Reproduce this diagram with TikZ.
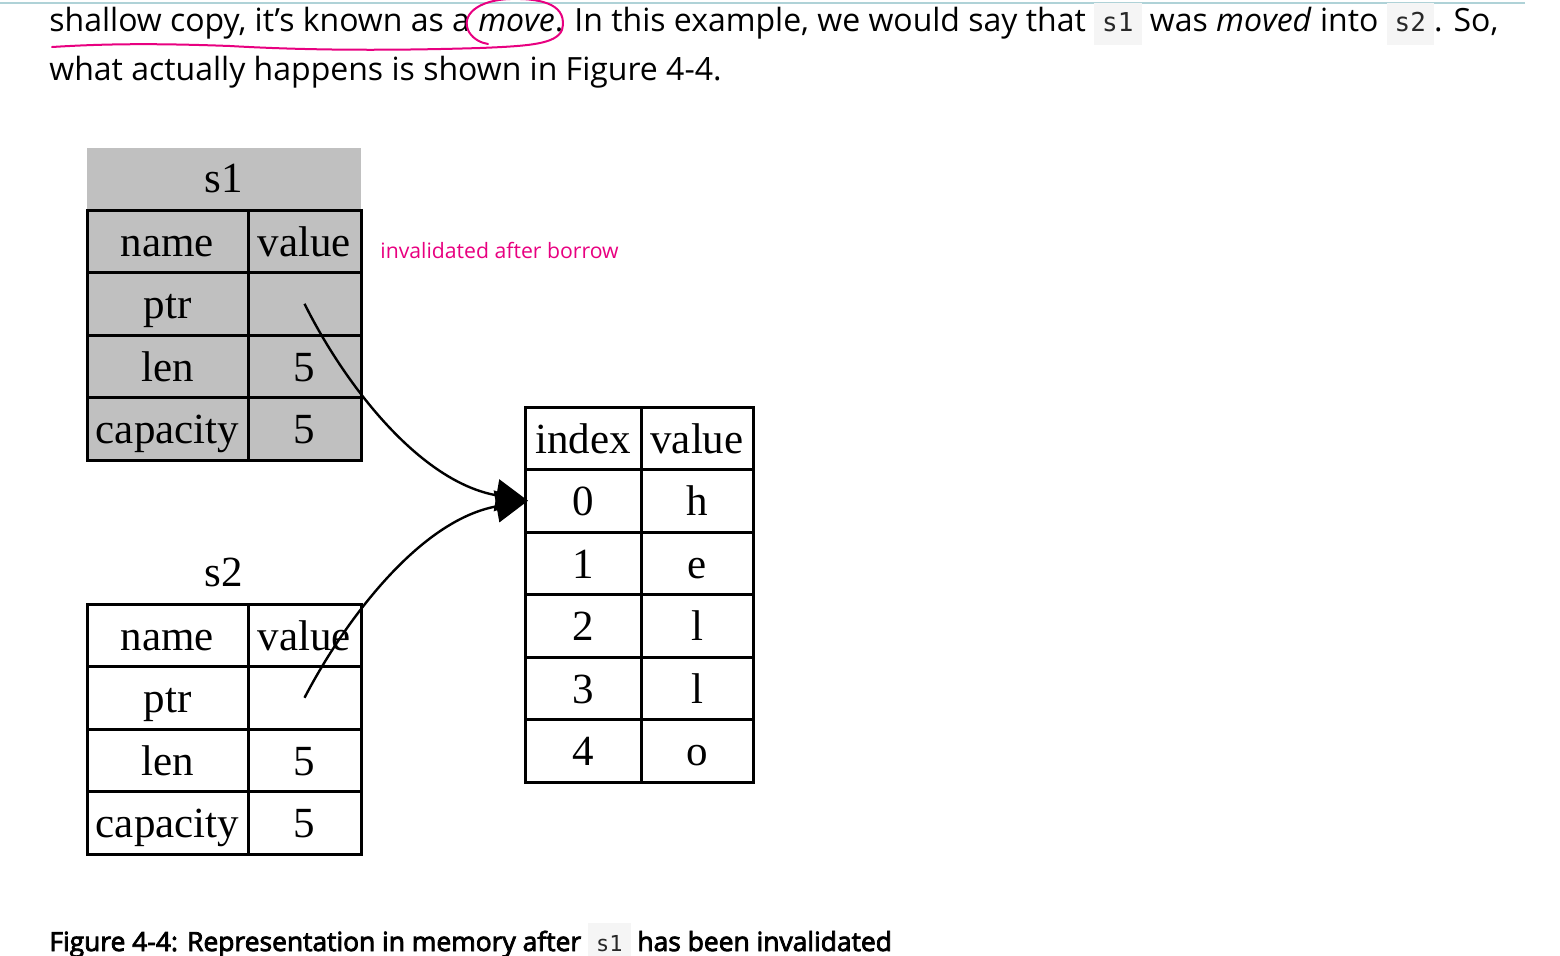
\documentclass[tikz,border=0pt]{standalone}
\usepackage{fontspec}
\setmainfont{Open Sans}
\newfontfamily\tabfont{Liberation Serif}
\newfontfamily\codefont{DejaVu Sans Mono}
\newfontfamily\capfont[FakeBold=3]{Open Sans}
\usetikzlibrary{arrows.meta, positioning}

\definecolor{penpink}{RGB}{232,0,128}
\definecolor{cellgray}{RGB}{192,192,192}
\definecolor{codebg}{RGB}{245,245,245}
\definecolor{codefg}{RGB}{40,40,40}
\definecolor{ruleteal}{RGB}{175,210,215}

\newcommand{\code}[2][13]{{\setlength{\fboxsep}{4pt}\colorbox{codebg}{\codefont\fontsize{#1}{#1}\selectfont\color{codefg}\rule[-3pt]{0pt}{13pt}#2}}}

\tikzset{
  cell/.style={draw, line width=1.5pt, inner sep=0pt, outer sep=0pt, anchor=north west,
    minimum height=31.25pt, text height=16pt, text depth=1.25pt,
    font=\tabfont\fontsize{21.5}{21.5}\selectfont},
  namecell/.style={cell, minimum width=80.5pt},
  valcell/.style={cell, minimum width=56.5pt},
  idxcell/.style={cell, minimum width=58pt},
  heapcell/.style={cell, minimum width=56pt},
  ptrline/.style={line width=1.2pt, -{Triangle[length=16pt, width=16pt]}},
  bodytext/.style={inner sep=0pt, anchor=base west, font=\fontsize{16}{16}\selectfont},
}

\begin{document}
\begin{tikzpicture}[x=0.5pt, y=-0.5pt]
  \useasboundingbox (0,0) rectangle (1560,955);
  \draw[ruleteal, line width=1pt] (0,3) -- (1525,3);

  % page text
  \node[bodytext] (line1) at (49,31) {shallow copy, it’s known as a \textit{move}. In this example, we would say that \code{s1} was \textit{moved} into \code{s2}. So,};
  \node[bodytext] (line2) at (49,80) {what actually happens is shown in Figure 4-4.};
  \node[bodytext, font=\capfont\fontsize{13.2}{13.2}\selectfont] (caption) at (49,951) {Figure 4-4: Representation in memory after \code[11]{s1} has been invalidated};

  % stack entry s1 (greyed out)
  \fill[cellgray] (87,148) rectangle (361,460);
  \node[font=\tabfont\fontsize{21.5}{21.5}\selectfont] (s1lbl) at (224,179) {s1};
  \foreach \nm/\vl [count=\i from 0] in {name/value, ptr/{}, len/5, capacity/5} {
    \node[namecell] (s1n\i) at (87,{210+62.5*\i}) {\nm};
    \node[valcell] (s1v\i) at (248,{210+62.5*\i}) {\vl};
  }

  % stack entry s2
  \node[font=\tabfont\fontsize{21.5}{21.5}\selectfont] (s2lbl) at (224,572) {s2};
  \foreach \nm/\vl [count=\i from 0] in {name/value, ptr/{}, len/5, capacity/5} {
    \node[namecell] (s2n\i) at (87,{604+62.5*\i}) {\nm};
    \node[valcell] (s2v\i) at (248,{604+62.5*\i}) {\vl};
  }

  % heap
  \foreach \ix/\ch [count=\i from 0] in {index/value, 0/h, 1/e, 2/l, 3/l, 4/o} {
    \node[idxcell] (hi\i) at (525,{407+62.5*\i}) {\ix};
    \node[heapcell] (hv\i) at (641,{407+62.5*\i}) {\ch};
  }

  % pointers
  \draw[ptrline] (s1v1.center) .. controls (345,385) and (420,482) .. ([xshift=1.5pt]hi1.west);
  \draw[ptrline] (s2v1.center) .. controls (345,620) and (420,520) .. ([xshift=1.5pt]hi1.west);

  % pen notes
  \node[inner sep=0pt, anchor=base west, text=penpink, font=\fontsize{10.6}{10.6}\selectfont] (note) at (380,258) {invalidated after borrow};
  \draw[penpink, line width=1pt, line cap=round]
    (52,47) .. controls (100,44) and (150,43) .. (230,46)
    .. controls (300,50) and (380,51) .. (480,48)
    .. controls (530,46) and (556,44) .. (562,30)
    .. controls (568,6) and (545,-2) .. (510,-1)
    .. controls (478,0) and (460,15) .. (469,32)
    .. controls (474,40) and (482,43) .. (488,44);
\end{tikzpicture}
\end{document}
